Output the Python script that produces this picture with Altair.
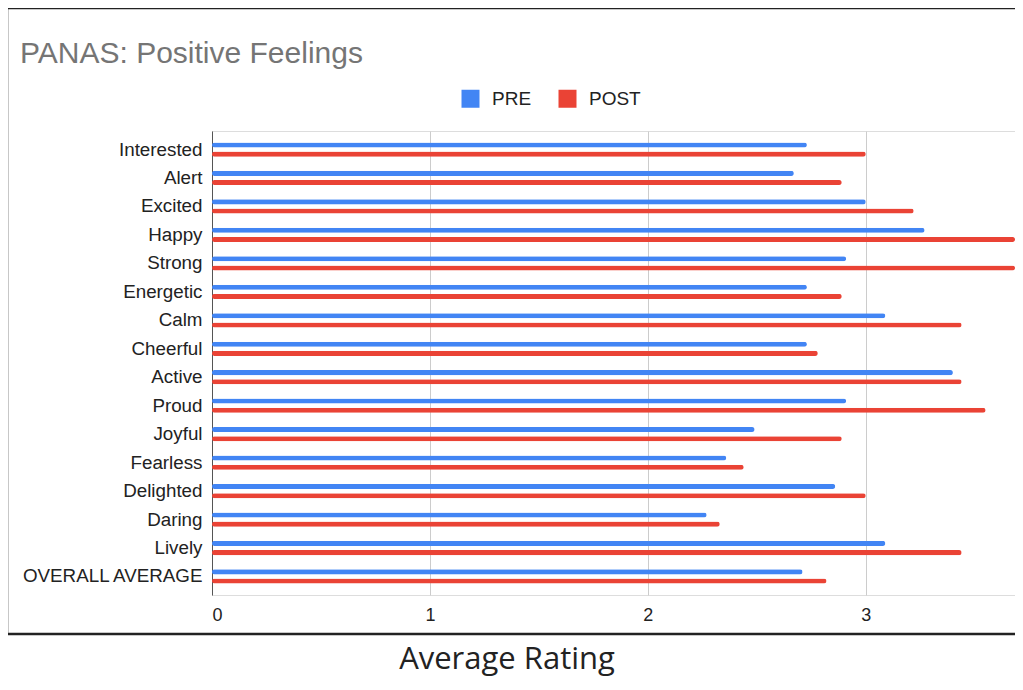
import altair as alt
import pandas as pd

categories = ["Interested", "Alert", "Excited", "Happy", "Strong", "Energetic", "Calm",
              "Cheerful", "Active", "Proud", "Joyful", "Fearless", "Delighted", "Daring",
              "Lively", "OVERALL AVERAGE"]
pre_values = [2.73, 2.67, 3.00, 3.27, 2.91, 2.73, 3.09, 2.73, 3.40, 2.91, 2.49, 2.36, 2.86, 2.27, 3.09, 2.71]
post_values = [3.00, 2.89, 3.22, 3.80, 3.70, 2.89, 3.44, 2.78, 3.44, 3.55, 2.89, 2.44, 3.00, 2.33, 3.44, 2.82]
series = ["PRE", "POST"]
colors = ["#4285F4", "#EA4335"]
x_ticks = [0, 1, 2, 3]

rows = []
for c, a, b in zip(categories, pre_values, post_values):
    rows.append({"feeling": c, "series": "PRE", "rating": a})
    rows.append({"feeling": c, "series": "POST", "rating": b})
df = pd.DataFrame(rows)

W, H = 803, 464
FONT = "Liberation Sans"

bars = alt.Chart(df).mark_bar(cornerRadius=2.5).encode(
    x=alt.X("rating:Q",
            scale=alt.Scale(domain=[0, 3.685], nice=False, zero=True, clamp=True),
            axis=alt.Axis(values=x_ticks, title=None, domain=False, ticks=False, tickSize=0,
                          labelPadding=11, labelFontSize=18, labelFont=FONT, labelColor="#222222",
                          grid=True, gridColor="#cccccc", gridWidth=1, format="d")),
    y=alt.Y("feeling:N", sort=categories,
            scale=alt.Scale(paddingInner=0, paddingOuter=0.151),
            axis=alt.Axis(title=None, domain=True, domainColor="#555555", domainWidth=1,
                          ticks=False, tickSize=0, labelPadding=10, labelFontSize=18.8,
                          labelFont=FONT, labelColor="#222222", grid=False, labelLimit=400)),
    yOffset=alt.YOffset("series:N", sort=series,
                        scale=alt.Scale(paddingInner=0.45, paddingOuter=0.772)),
    color=alt.Color("series:N", sort=series,
                    scale=alt.Scale(domain=series, range=colors),
                    legend=alt.Legend(title=None, orient="none", legendX=249, legendY=-42,
                                      direction="horizontal", symbolType="square",
                                      symbolSize=324, symbolStrokeWidth=0, labelFontSize=19,
                                      labelFont=FONT, labelColor="#222222", labelOffset=12,
                                      columnPadding=26, padding=0)),
)

frame = alt.Chart(pd.DataFrame({"k": [0]})).mark_rect(
    filled=False, stroke="#222222", strokeWidth=2.5
).encode(x=alt.value(-205), x2=alt.value(W + 20), y=alt.value(-123), y2=alt.value(503))

title = alt.Chart(pd.DataFrame({"t": ["PANAS: Positive Feelings"]})).mark_text(
    align="left", baseline="alphabetic", font=FONT, fontSize=30, color="#757575"
).encode(text="t:N", x=alt.value(-192), y=alt.value(-68.5))

caption = alt.Chart(pd.DataFrame({"t": ["Average Rating"]})).mark_text(
    align="center", baseline="alphabetic", font="Open Sans", fontSize=31, color="#222222"
).encode(text="t:N", x=alt.value(295), y=alt.value(538))

chart = alt.layer(frame, bars, title, caption).properties(
    width=W, height=H,
    autosize=alt.AutoSizeParams(type="none"),
    padding={"left": 204, "top": 123, "right": 0, "bottom": 83},
).configure_view(stroke=None).configure(background="white")

chart.save("out.html", embed_options={"renderer": "svg", "actions": False})
